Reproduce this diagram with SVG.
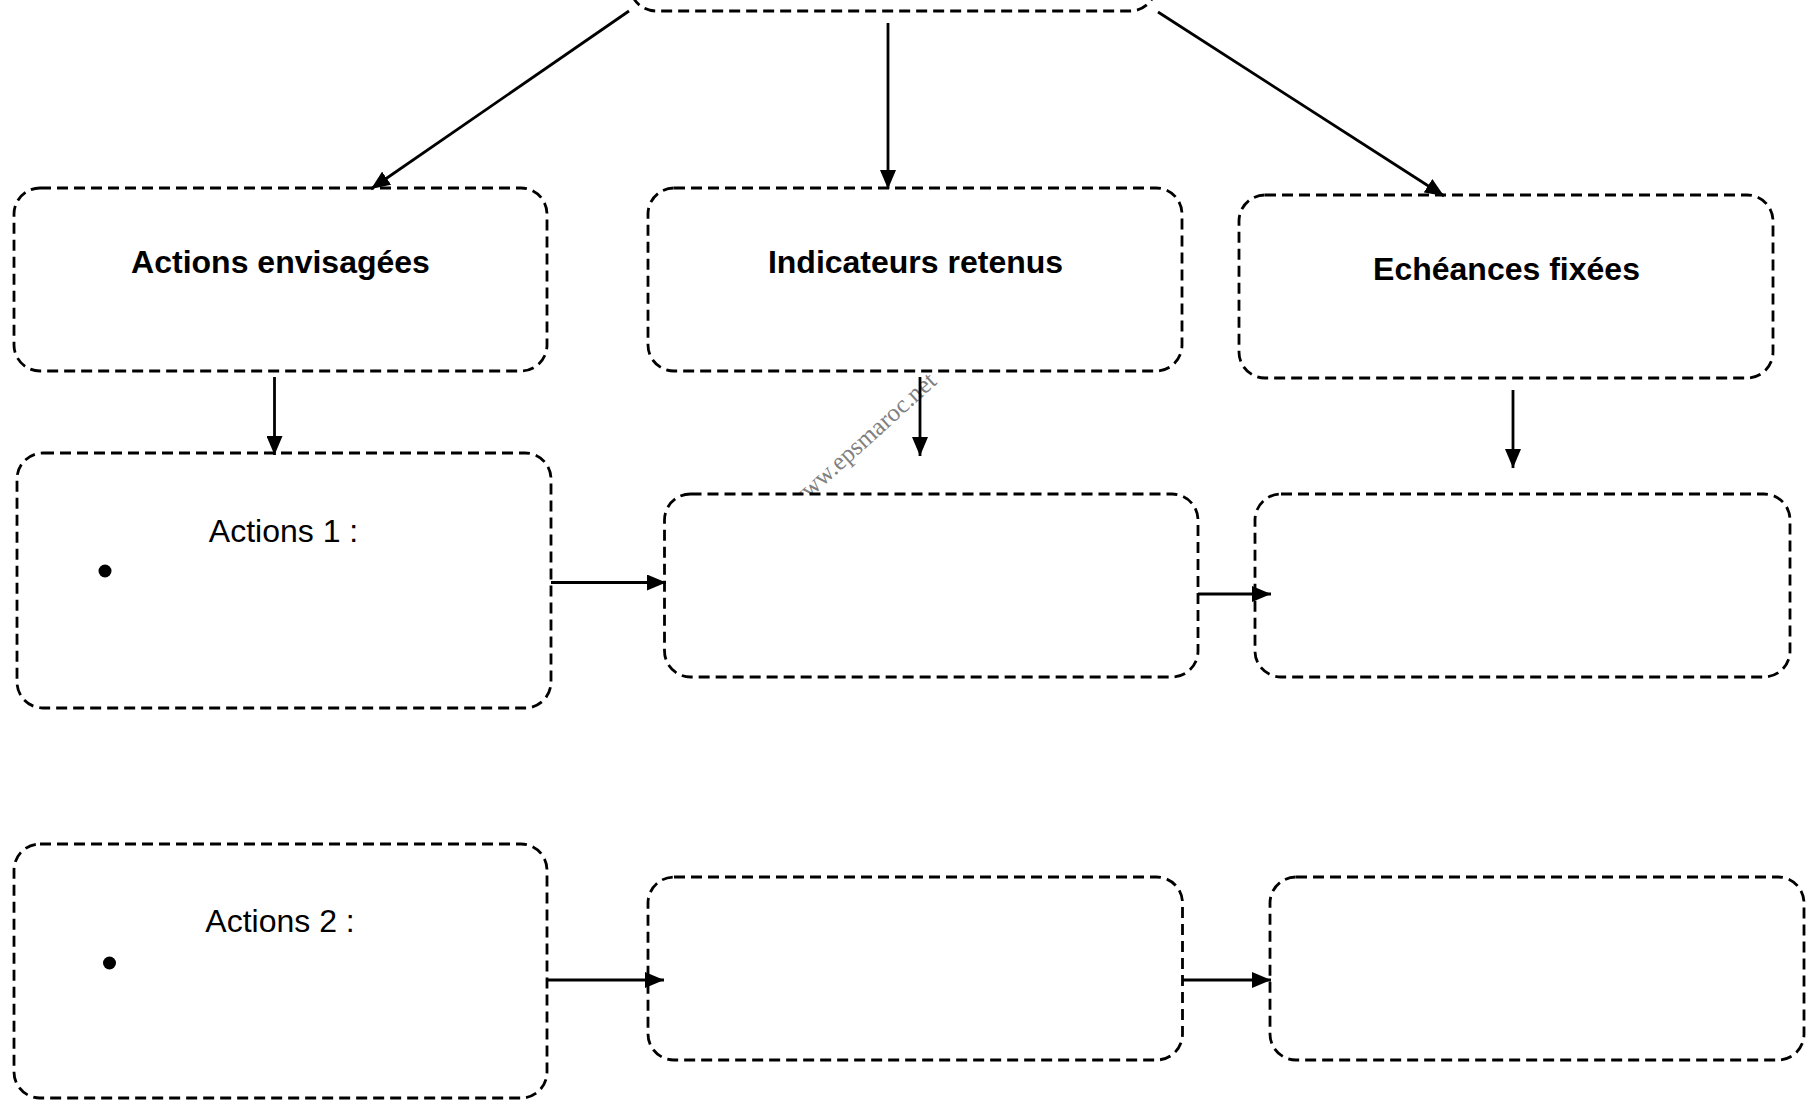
<svg xmlns="http://www.w3.org/2000/svg" width="1809" height="1100" viewBox="0 0 1809 1100">
<style>
.box{fill:#fff;stroke:#000;stroke-width:2.8;stroke-dasharray:11 6}
.conn{stroke:#000;stroke-width:2.8;fill:none;marker-end:url(#ah)}
.h{font-family:"Liberation Sans",Arial,sans-serif;font-weight:bold;font-size:32px;text-anchor:middle;fill:#000}
.t{font-family:"Liberation Sans",Arial,sans-serif;font-size:32px;text-anchor:middle;fill:#000}
.wm{font-family:"Liberation Serif","Times New Roman",serif;font-size:25px;fill:#808080;text-anchor:end}
</style>
<defs>
<marker id="ah" markerUnits="userSpaceOnUse" markerWidth="19" markerHeight="16" viewBox="0 0 19 16" refX="19" refY="8" orient="auto">
<path d="M0,0 L19,8 L0,16 z" fill="#000"/>
</marker>
</defs>
<rect width="1809" height="1100" fill="#fff"/>
<text class="wm" transform="translate(938,383) rotate(-42)">www.epsmaroc.net</text>
<g id="top"><rect class="box" x="630" y="-150" width="526" height="161" rx="26"/></g>
<g id="actions-envisagees"><rect class="box" x="14" y="188" width="533" height="183" rx="26"/><text class="h" x="280.5" y="273">Actions envisagées</text></g>
<g id="indicateurs-retenus"><rect class="box" x="648" y="188" width="534" height="183" rx="26"/><text class="h" x="915.5" y="273">Indicateurs retenus</text></g>
<g id="echeances-fixees"><rect class="box" x="1239" y="195" width="534" height="183" rx="26"/><text class="h" x="1506.5" y="280">Echéances fixées</text></g>
<g id="actions1"><rect class="box" x="17" y="453" width="534" height="255" rx="26"/><text class="t" x="283.5" y="542">Actions 1 :</text><circle cx="105" cy="571" r="6.5"/></g>
<g id="indic1"><rect class="box" x="664.5" y="494" width="533.5" height="183" rx="26"/></g>
<g id="ech1"><rect class="box" x="1255" y="494" width="535" height="183" rx="26"/></g>
<g id="actions2"><rect class="box" x="14" y="844" width="533" height="254" rx="26"/><text class="t" x="280" y="932">Actions 2 :</text><circle cx="109.5" cy="963" r="6.5"/></g>
<g id="indic2"><rect class="box" x="648" y="877" width="534.5" height="183" rx="26"/></g>
<g id="ech2"><rect class="box" x="1270" y="877" width="534" height="183" rx="26"/></g>
<g id="connectors">
<line class="conn" x1="629" y1="11" x2="371" y2="189"/>
<line class="conn" x1="888" y1="23" x2="888" y2="189"/>
<line class="conn" x1="1158" y1="12" x2="1444" y2="196"/>
<line class="conn" x1="274.5" y1="377" x2="274.5" y2="455"/>
<line class="conn" x1="920" y1="377" x2="920" y2="456"/>
<line class="conn" x1="1513" y1="390" x2="1513" y2="468"/>
<line class="conn" x1="551" y1="582.5" x2="666" y2="582.5"/>
<line class="conn" x1="1198" y1="594" x2="1271" y2="594"/>
<line class="conn" x1="547" y1="980" x2="664" y2="980"/>
<line class="conn" x1="1182.5" y1="980" x2="1271" y2="980"/>
</g>
</svg>
